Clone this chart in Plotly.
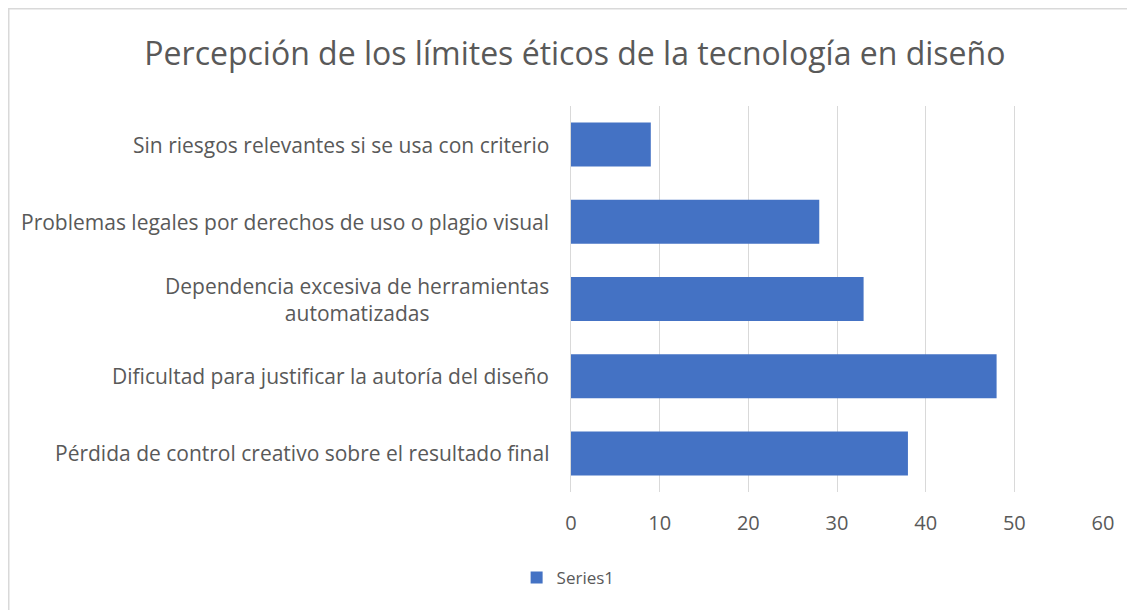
import plotly.graph_objects as go

categories = [
    "Pérdida de control creativo sobre el resultado final",
    "Dificultad para justificar la autoría del diseño",
    "Dependencia excesiva de herramientas<br>automatizadas",
    "Problemas legales por derechos de uso o plagio visual",
    "Sin riesgos relevantes si se usa con criterio",
]
values = [38, 48, 33, 28, 9]
series_name = "Series1"
x_ticks = [0, 10, 20, 30, 40, 50, 60]

TEXT = "#595959"
FONT = "Open Sans"

# page is drawn with an 8px body margin, so figure coords = page coords - 8
W, H = 1127, 602
L, R, T, B = 563, 1095, 98, 484
PW, PH = R - L, B - T

fig = go.Figure()
fig.add_trace(go.Bar(
    x=values, y=categories, orientation="h", name=series_name,
    marker=dict(color="#4472c4", line=dict(width=0)),
    showlegend=True,
))

for cat in categories:
    fig.add_annotation(text=cat, x=0, y=cat, xref="paper", yref="y",
                       xanchor="right", yanchor="middle", align="center",
                       xshift=-20, showarrow=False,
                       font=dict(size=21, color=TEXT, family=FONT))

fig.update_layout(
    width=W, height=H,
    margin=dict(l=L, r=W - R, t=T, b=H - B),
    paper_bgcolor="white", plot_bgcolor="white",
    font=dict(family=FONT, color=TEXT, size=17),
    title=dict(text="Percepción de los límites éticos de la tecnología en diseño",
               x=0.503, xanchor="center", y=1 - 46 / H, yanchor="middle",
               xref="container", yref="container",
               font=dict(size=32, color=TEXT, family=FONT)),
    bargap=0.43,
    showlegend=True,
    legend=dict(orientation="h", xref="container", yref="container",
                x=0.497, xanchor="center", y=1 - 570 / H, yanchor="middle",
                font=dict(size=17, color=TEXT), itemwidth=30),
    xaxis=dict(range=[0, 60], tickvals=x_ticks, showgrid=True, gridcolor="#d9d9d9",
               gridwidth=1, zeroline=False, showline=False, ticks="",
               ticklabelstandoff=17, tickfont=dict(size=20, color=TEXT)),
    yaxis=dict(showgrid=False, zeroline=False, showline=True, linecolor="#d9d9d9",
               linewidth=1, ticks="", showticklabels=False),
)

fig.add_shape(type="rect", xref="paper", yref="paper",
              x0=(0.75 - L) / PW, x1=(W + 10 - L) / PW,
              y0=(B - (H + 10)) / PH, y1=(B - 0.75) / PH,
              line=dict(color="#d9d9d9", width=1.5), fillcolor="rgba(0,0,0,0)", layer="below")

fig.write_html("out.html")
